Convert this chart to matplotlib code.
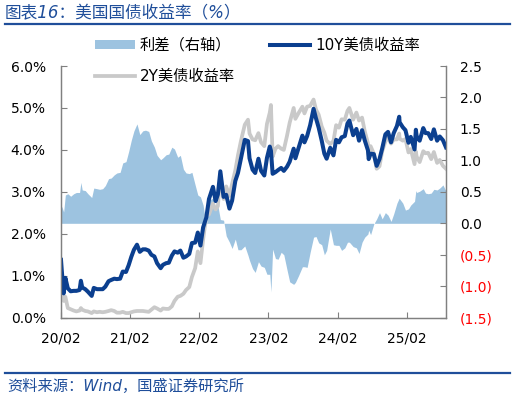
import matplotlib
matplotlib.use('Agg')
import matplotlib.pyplot as plt
import pandas as pd
from matplotlib.lines import Line2D
from matplotlib.patches import Patch

plt.rcParams['font.family'] = ['DejaVu Sans', 'Noto Sans CJK SC']
plt.rcParams['axes.unicode_minus'] = False

# ---------------- data ----------------
dates = [
    '2020-02-24', '2020-02-28', '2020-03-09', '2020-03-18', '2020-03-31', '2020-04-15',
    '2020-05-01', '2020-05-15', '2020-06-01', '2020-06-08', '2020-06-15', '2020-07-01',
    '2020-07-15', '2020-08-04', '2020-08-15', '2020-09-01', '2020-09-15', '2020-10-01',
    '2020-10-15', '2020-11-01', '2020-11-15', '2020-12-01', '2020-12-15', '2021-01-01',
    '2021-01-15', '2021-02-01', '2021-02-15', '2021-03-01', '2021-03-15', '2021-03-31',
    '2021-04-15', '2021-05-01', '2021-05-15', '2021-06-01', '2021-06-15', '2021-07-01',
    '2021-07-15', '2021-08-03', '2021-08-15', '2021-09-01', '2021-09-15', '2021-10-01',
    '2021-10-15', '2021-11-01', '2021-11-15', '2021-12-01', '2021-12-15', '2022-01-01',
    '2022-01-15', '2022-02-01', '2022-02-15', '2022-03-01', '2022-03-15', '2022-04-01',
    '2022-04-15', '2022-05-06', '2022-05-20', '2022-06-01', '2022-06-14', '2022-07-01',
    '2022-07-15', '2022-08-01', '2022-08-15', '2022-09-01', '2022-09-15', '2022-10-01',
    '2022-10-21', '2022-11-07', '2022-11-15', '2022-12-01', '2022-12-15', '2023-01-01',
    '2023-01-15', '2023-02-01', '2023-02-15', '2023-03-02', '2023-03-08', '2023-03-17',
    '2023-04-01', '2023-04-15', '2023-05-01', '2023-05-15', '2023-06-01', '2023-06-15',
    '2023-07-06', '2023-07-15', '2023-08-01', '2023-08-21', '2023-09-01', '2023-09-15',
    '2023-10-01', '2023-10-19', '2023-11-01', '2023-11-15', '2023-12-01', '2023-12-15',
    '2023-12-27', '2024-01-15', '2024-02-01', '2024-02-15', '2024-03-01', '2024-03-15',
    '2024-04-01', '2024-04-15', '2024-04-25', '2024-05-15', '2024-06-01', '2024-06-15',
    '2024-07-01', '2024-07-15', '2024-08-01', '2024-08-05', '2024-08-15', '2024-09-01',
    '2024-09-16', '2024-10-01', '2024-10-15', '2024-11-01', '2024-11-15', '2024-12-01',
    '2024-12-15', '2025-01-01', '2025-01-13', '2025-01-15', '2025-02-01', '2025-02-15',
    '2025-03-03', '2025-03-15', '2025-04-04', '2025-04-11', '2025-04-15', '2025-05-01',
    '2025-05-20', '2025-06-01', '2025-06-15', '2025-07-01', '2025-07-15', '2025-08-01',
    '2025-08-15', '2025-09-01', '2025-09-17',
]
yield_10y = [
    1.38, 1.13, 0.58, 0.95, 0.70, 0.63,
    0.64, 0.64, 0.66, 0.88, 0.72, 0.68,
    0.62, 0.52, 0.71, 0.68, 0.68, 0.68,
    0.74, 0.87, 0.90, 0.93, 0.92, 0.93,
    1.10, 1.09, 1.25, 1.45, 1.62, 1.74,
    1.57, 1.63, 1.63, 1.60, 1.50, 1.46,
    1.30, 1.18, 1.26, 1.30, 1.31, 1.48,
    1.58, 1.55, 1.60, 1.43, 1.46, 1.52,
    1.78, 1.79, 2.03, 1.72, 2.15, 2.39,
    2.83, 3.12, 2.78, 2.94, 3.49, 2.88,
    2.93, 2.60, 2.79, 3.26, 3.45, 3.80,
    4.24, 4.21, 3.80, 3.53, 3.45, 3.79,
    3.50, 3.39, 3.81, 4.08, 3.98, 3.43,
    3.47, 3.52, 3.57, 3.50, 3.60, 3.72,
    4.03, 3.80, 4.05, 4.34, 4.18, 4.33,
    4.59, 4.98, 4.75, 4.53, 4.22, 3.91,
    3.79, 4.05, 3.87, 4.24, 4.18, 4.30,
    4.33, 4.63, 4.70, 4.35, 4.50, 4.22,
    4.47, 4.23, 3.99, 3.78, 3.91, 3.90,
    3.62, 3.78, 4.03, 4.37, 4.43, 4.18,
    4.40, 4.57, 4.79, 4.66, 4.54, 4.47,
    4.17, 4.31, 4.01, 4.48, 4.33, 4.22,
    4.52, 4.40, 4.40, 4.26, 4.49, 4.22,
    4.32, 4.23, 4.06,
]
yield_2y = [
    1.18, 0.86, 0.40, 0.50, 0.23, 0.20,
    0.17, 0.15, 0.17, 0.23, 0.19, 0.16,
    0.15, 0.11, 0.15, 0.13, 0.14, 0.13,
    0.14, 0.16, 0.18, 0.16, 0.12, 0.12,
    0.14, 0.11, 0.11, 0.13, 0.15, 0.16,
    0.16, 0.16, 0.15, 0.14, 0.19, 0.25,
    0.22, 0.17, 0.22, 0.21, 0.21, 0.27,
    0.40, 0.50, 0.52, 0.57, 0.66, 0.73,
    0.97, 1.18, 1.58, 1.30, 1.86, 2.44,
    2.46, 2.72, 2.58, 2.66, 3.43, 2.83,
    3.13, 2.90, 3.19, 3.51, 3.87, 4.22,
    4.60, 4.72, 4.39, 4.25, 4.23, 4.40,
    4.18, 4.09, 4.62, 4.89, 5.07, 3.84,
    4.03, 4.09, 4.03, 4.00, 4.34, 4.65,
    5.00, 4.74, 4.88, 5.03, 4.87, 5.03,
    5.05, 5.20, 4.96, 4.84, 4.56, 4.41,
    4.22, 4.14, 4.21, 4.59, 4.53, 4.73,
    4.72, 4.93, 5.00, 4.72, 4.89, 4.70,
    4.77, 4.45, 4.16, 3.89, 4.09, 3.91,
    3.55, 3.61, 3.96, 4.20, 4.30, 4.15,
    4.25, 4.25, 4.39, 4.27, 4.22, 4.26,
    3.94, 4.02, 3.66, 3.96, 3.84, 3.71,
    3.97, 3.92, 3.93, 3.78, 3.95, 3.69,
    3.76, 3.62, 3.55,
]
x_tick_dates = ['2020-02-24', '2021-02-23', '2022-02-23', '2023-02-23', '2024-02-23', '2025-02-22']
x_tick_labels = ['20/02', '21/02', '22/02', '23/02', '24/02', '25/02']
left_ticks = [0, 1, 2, 3, 4, 5, 6]
right_ticks = [-1.5, -1.0, -0.5, 0.0, 0.5, 1.0, 1.5, 2.0, 2.5]

# ---------------- plot ----------------
df = pd.DataFrame({'date': pd.to_datetime(dates), 'y10': yield_10y, 'y2': yield_2y})
df['spread'] = df['y10'] - df['y2']

W, H = 515, 399
fig = plt.figure(figsize=(W / 100, H / 100), dpi=100)
ax1 = fig.add_axes([61 / W, 1 - 317.7 / H, (446 - 61) / W, (317.7 - 66) / H])
ax2 = ax1.twinx()

c_fill = '#9DC3E0'
c_10y = '#0B3F8F'
c_2y = '#C9C9C9'
c_blue = '#1F4E9A'

ax2.fill_between(df['date'], 0, df['spread'], color=c_fill, linewidth=0)
ax1.plot(df['date'], df['y2'], color=c_2y, linewidth=2.7, solid_joinstyle='round')
ax1.plot(df['date'], df['y10'], color=c_10y, linewidth=2.9, solid_joinstyle='round')

ax1.set_zorder(ax2.get_zorder() + 1)
ax1.patch.set_visible(False)

ax1.set_xlim(df['date'].iloc[0], df['date'].iloc[-1])
ax1.set_ylim(0, 6)
ax2.set_ylim(-1.5, 2.5)

ax1.set_xticks(pd.to_datetime(x_tick_dates))
ax1.set_xticklabels(x_tick_labels)
ax1.set_yticks(left_ticks)
ax1.set_yticklabels([f'{v:.1f}%' for v in left_ticks])
ax2.set_yticks(right_ticks)
rlabels = [f'({abs(v):.1f})' if v < 0 else f'{v:.1f}' for v in right_ticks]
ax2.set_yticklabels(rlabels)
for t, v in zip(ax2.get_yticklabels(), right_ticks):
    if v < 0:
        t.set_color('#FF0000')

spine_c = '#808080'
for ax in (ax1, ax2):
    ax.spines['top'].set_visible(False)
    for s in ('left', 'right', 'bottom'):
        ax.spines[s].set_color(spine_c)
        ax.spines[s].set_linewidth(0.9)
ax1.tick_params(axis='y', direction='in', length=4, color=spine_c, labelsize=10, pad=11)
ax1.tick_params(axis='x', direction='in', length=4, color=spine_c, labelsize=10, pad=10)
ax2.tick_params(axis='y', direction='in', length=4, color=spine_c, labelsize=10, pad=10)

# legend
handles = [Patch(facecolor=c_fill, edgecolor='none'),
           Line2D([], [], color=c_2y, linewidth=2.7),
           Line2D([], [], color=c_10y, linewidth=2.9)]
labels = ['利差（右轴）', '2Y美债收益率', '10Y美债收益率']
leg = fig.legend(handles, labels, loc='upper left', bbox_to_anchor=(95 / W, 1 - 38 / H),
                 ncol=2, frameon=False, handlelength=2.6, handleheight=0.55,
                 handletextpad=0.35, columnspacing=2.3, labelspacing=1.05,
                 borderpad=0, borderaxespad=0,
                 prop={'family': ['DejaVu Sans', 'Noto Sans CJK SC'], 'size': 11})

# title and source
fig.text(5 / W, 1 - 13 / H, '图表16：美国国债收益率（%）', color=c_blue, fontsize=12,
         style='italic', ha='left', va='center')
fig.add_artist(Line2D([5 / W, 510 / W], [1 - 24 / H, 1 - 24 / H], color=c_blue, linewidth=1.6))
fig.add_artist(Line2D([5 / W, 510 / W], [1 - 373 / H, 1 - 373 / H], color=c_blue, linewidth=1.6))
fig.text(7 / W, 1 - 386 / H, '资料来源：Wind，国盛证券研究所', color=c_blue, fontsize=11,
         style='italic', ha='left', va='center')

fig.savefig('out.png', dpi=100)
